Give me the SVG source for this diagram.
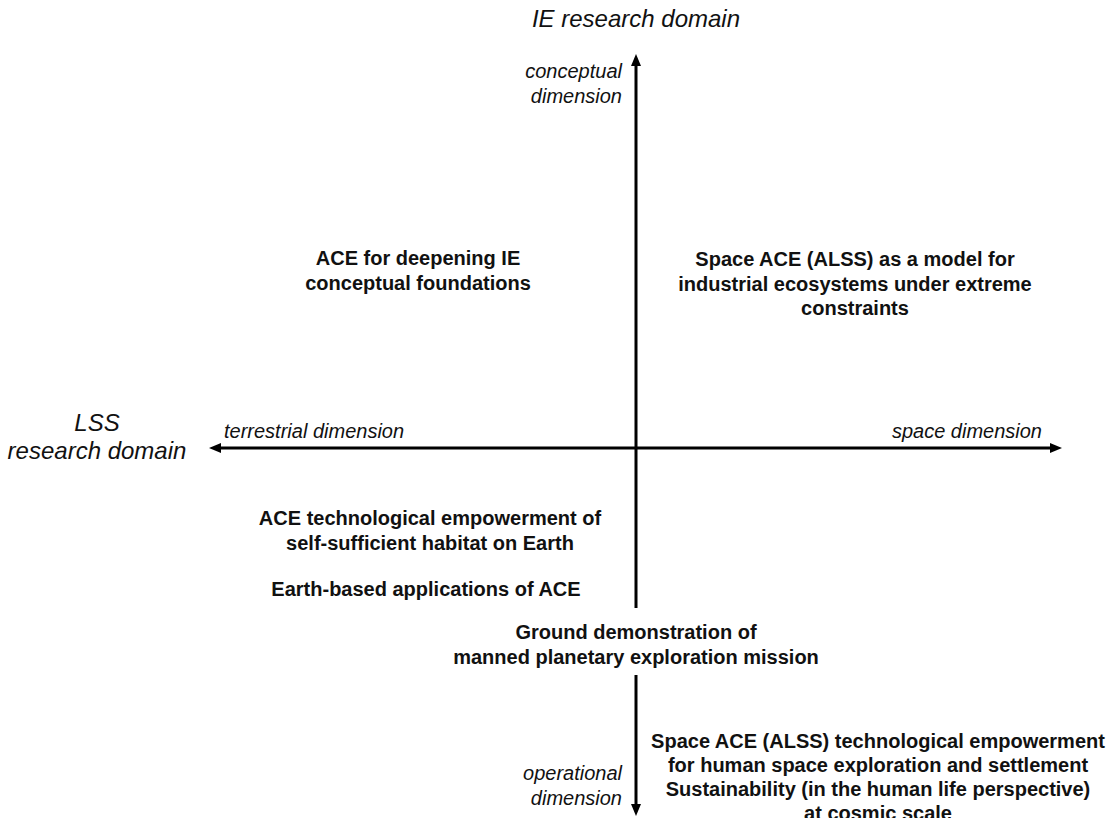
<svg xmlns="http://www.w3.org/2000/svg" width="1115" height="818" viewBox="0 0 1115 818">
<style>
.it{font-family:"Liberation Sans",Arial,sans-serif;font-style:italic;fill:#111}
.b{font-family:"Liberation Sans",Arial,sans-serif;font-weight:bold;font-size:20px;fill:#111;text-anchor:middle}
.ax{stroke:#000;stroke-width:3;fill:none}
</style>
<defs>
<marker id="ah" markerWidth="12" markerHeight="12" refX="2" refY="6" orient="auto" markerUnits="userSpaceOnUse">
<path d="M0,1 L12,6 L0,11 Z" fill="#000"/>
</marker>
</defs>
<rect width="1115" height="818" fill="#fff"/>
<g id="connectors">
<line class="ax" x1="636" y1="608" x2="636" y2="64" marker-end="url(#ah)"/>
<line class="ax" x1="636" y1="675" x2="636" y2="806" marker-end="url(#ah)"/>
<line class="ax" x1="636" y1="448" x2="219" y2="448" marker-end="url(#ah)"/>
<line class="ax" x1="636" y1="448" x2="1052" y2="448" marker-end="url(#ah)"/>
</g>
<g id="ie-domain"><text class="it" x="636" y="27" font-size="24" text-anchor="middle">IE research domain</text></g>
<g id="conceptual"><text class="it" x="622" y="78" font-size="20" text-anchor="end">conceptual</text><text class="it" x="622" y="103" font-size="20" text-anchor="end">dimension</text></g>
<g id="lss-domain"><text class="it" x="97" y="431" font-size="24" text-anchor="middle">LSS</text><text class="it" x="97" y="459" font-size="24" text-anchor="middle">research domain</text></g>
<g id="terrestrial"><text class="it" x="224" y="438" font-size="20">terrestrial dimension</text></g>
<g id="space"><text class="it" x="1042" y="438" font-size="20" text-anchor="end">space dimension</text></g>
<g id="operational"><text class="it" x="622" y="780" font-size="20" text-anchor="end">operational</text><text class="it" x="622" y="805" font-size="20" text-anchor="end">dimension</text></g>
<g id="q1"><text class="b" x="418" y="265">ACE for deepening IE</text><text class="b" x="418" y="290">conceptual foundations</text></g>
<g id="q2"><text class="b" x="855" y="266">Space ACE (ALSS) as a model for</text><text class="b" x="855" y="291">industrial ecosystems under extreme</text><text class="b" x="855" y="315">constraints</text></g>
<g id="q3"><text class="b" x="430" y="525">ACE technological empowerment of</text><text class="b" x="430" y="550">self-sufficient habitat on Earth</text></g>
<g id="q3b"><text class="b" x="426" y="596">Earth-based applications of ACE</text></g>
<g id="ground"><text class="b" x="636" y="639">Ground demonstration of</text><text class="b" x="636" y="664">manned planetary exploration mission</text></g>
<g id="q4"><text class="b" x="878" y="748">Space ACE (ALSS) technological empowerment</text><text class="b" x="878" y="772">for human space exploration and settlement</text><text class="b" x="878" y="796">Sustainability (in the human life perspective)</text><text class="b" x="878" y="820">at cosmic scale</text></g>
</svg>
